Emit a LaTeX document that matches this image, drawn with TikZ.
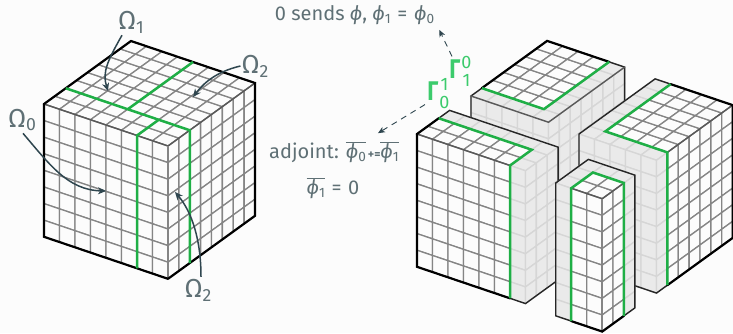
\documentclass[tikz,border=0pt]{standalone}
\usepackage{fontspec}
\setmainfont{Fira Sans}
\usetikzlibrary{arrows.meta}
\definecolor{paper}{HTML}{FCFCFC}
\definecolor{cellwhite}{HTML}{FCFCFC}
\definecolor{cellgray}{HTML}{858585}
\definecolor{ghostfill}{HTML}{EAEAEA}
\definecolor{ghostgray}{HTML}{D6D6D6}
\definecolor{ownergreen}{HTML}{1FAF46}
\definecolor{gammagreen}{HTML}{3CCB6C}
\definecolor{labelink}{HTML}{5F7075}
\definecolor{arrowink}{HTML}{2F464F}
\tikzset{
  isoaxes/.style={x={(15.5pt,-5.25pt)},y={(10.875pt,7.875pt)},z={(0pt,-16.6pt)}},
  whitecell/.style={fill=cellwhite,draw=cellgray,line width=1.3pt},
  ghostcell/.style={fill=ghostfill,draw=ghostgray,line width=1.3pt},
  heavy/.style={draw=black,line width=2.2pt,line cap=round},
  medium/.style={draw=black!85,line width=1.4pt,line cap=round},
  seam/.style={draw=black!65,line width=1.4pt,line cap=round},
  corner/.style={draw=cellgray,line width=2.2pt},
  owner/.style={draw=ownergreen,line width=2.5pt,line join=miter},
  omega/.style={text=labelink,inner sep=0pt,font=\fontsize{26}{26}\selectfont},
  note/.style={text=labelink,inner sep=0pt,font=\fontsize{20}{22}\selectfont},
  gam/.style={text=gammagreen,inner sep=0pt,font=\fontsize{27}{27}\selectfont\bfseries},
  gamidx/.style={text=gammagreen,inner sep=0pt,font=\fontsize{18}{18}\selectfont},
  callout/.style={draw=arrowink,line width=1.5pt,-{Stealth[length=8pt,width=7pt,inset=2.5pt]}},
  dashcall/.style={draw=arrowink,line width=.9pt,dash pattern=on 6pt off 5pt,-{Stealth[length=7pt,width=6pt,inset=2pt]}}
}
% cell grids: top (w=0), front (v=0), right side (u=#1)
\newcommand\topgrid[5]{\foreach \i in {#1,...,#2}{\foreach \j in {#3,...,#4}{%
  \path[#5] (\i,\j,0)--(\i+1,\j,0)--(\i+1,\j+1,0)--(\i,\j+1,0)--cycle;}}}
\newcommand\frontgrid[3]{\foreach \i in {#1,...,#2}{\foreach \k in {0,...,7}{%
  \path[#3] (\i,0,\k)--(\i+1,0,\k)--(\i+1,0,\k+1)--(\i,0,\k+1)--cycle;}}}
\newcommand\sidegrid[4]{\foreach \j in {#2,...,#3}{\foreach \k in {0,...,7}{%
  \path[#4] (#1,\j,\k)--(#1,\j+1,\k)--(#1,\j+1,\k+1)--(#1,\j,\k+1)--cycle;}}}
\newcommand\subi[1]{\raisebox{-.28ex}{\scalebox{.68}{#1}}}
\newcommand\phii{\textit{ϕ}}
\newcommand\ovl[1]{\ensuremath{\overline{\mbox{#1}}}}
\newcommand\gammaglyph{\scalebox{.8}[1]{Γ}}
\begin{document}
\begin{tikzpicture}[x=1pt,y=1pt]
\useasboundingbox (0,0) rectangle (733,-333);
\fill[paper] (0,0) rectangle (733,-333);

% ---------- left cube
\begin{scope}[isoaxes,shift={(44pt,-104pt)}]
  \topgrid{0}{7}{0}{7}{whitecell}
  \frontgrid{0}{7}{whitecell}
  \sidegrid{8}{0}{7}{whitecell}
  \path[seam] (0,0,0)--(8,0,0)--(8,8,0);
  \path[corner] (8,0,0)--(8,0,8);
  \path[heavy] (8,0,8)--(0,0,8)--(0,0,0)--(0,8,0)--(8,8,0)--(8,8,8)--(8,0,8);
  \path[owner] (0,2,0)--(8,2,0)--(8,2,8);
  \path[owner] (4,8,0)--(4,2,0);
  \path[owner] (6,2,0)--(6,0,0)--(6,0,8);
\end{scope}

% ---------- block behind
\begin{scope}[isoaxes,shift={(471pt,-96pt)}]
  \topgrid{0}{4}{0}{6}{ghostcell}
  \frontgrid{0}{4}{ghostcell}
  \sidegrid{5}{0}{6}{ghostcell}
  \topgrid{0}{3}{1}{6}{whitecell}
  \path[medium] (0,0,8)--(0,0,0)--(0,1,0);
  \path[heavy] (0,1,0)--(0,7,0)--(4,7,0);
  \path[medium] (4,7,0)--(5,7,0)--(5,7,8);
  \path[seam] (0,0,0)--(5,0,0)--(5,7,0);
  \path[owner] (0,1,0)--(4,1,0)--(4,7,0);
\end{scope}

% ---------- block on the right
\begin{scope}[isoaxes,shift={(579pt,-134pt)}]
  \topgrid{0}{4}{0}{6}{ghostcell}
  \frontgrid{0}{4}{ghostcell}
  \sidegrid{5}{0}{6}{ghostcell}
  \topgrid{1}{4}{1}{6}{whitecell}
  \sidegrid{5}{1}{6}{whitecell}
  \path[seam] (5,1,0)--(5,7,0);
  \path[medium] (0,0,8)--(0,0,0)--(0,7,0)--(1,7,0);
  \path[medium] (0,0,8)--(5,0,8)--(5,1,8);
  \path[heavy] (1,7,0)--(5,7,0)--(5,7,8)--(5,1,8);
  \path[owner] (1,7,0)--(1,1,0)--(5,1,0)--(5,1,8);
\end{scope}

% ---------- block in front, left
\begin{scope}[isoaxes,shift={(417pt,-134pt)}]
  \topgrid{0}{6}{0}{2}{ghostcell}
  \frontgrid{0}{6}{ghostcell}
  \sidegrid{7}{0}{2}{ghostcell}
  \topgrid{0}{5}{0}{1}{whitecell}
  \frontgrid{0}{5}{whitecell}
  \path[seam] (0,0,0)--(6,0,0);
  \path[medium] (0,2,0)--(0,3,0)--(7,3,0)--(7,3,8)--(7,0,8)--(6,0,8);
  \path[heavy] (6,0,8)--(0,0,8)--(0,0,0)--(0,2,0);
  \path[owner] (0,2,0)--(6,2,0)--(6,0,0)--(6,0,8);
\end{scope}

% ---------- pillar
\begin{scope}[isoaxes,shift={(555.7pt,-183pt)}]
  \topgrid{0}{2}{0}{2}{ghostcell}
  \frontgrid{0}{2}{ghostcell}
  \sidegrid{3}{0}{2}{ghostcell}
  \topgrid{1}{2}{0}{1}{whitecell}
  \frontgrid{1}{2}{whitecell}
  \sidegrid{3}{0}{1}{whitecell}
  \path[seam] (1,0,0)--(3,0,0)--(3,2,0);
  \path[corner] (3,0,0)--(3,0,8);
  \path[medium] (1,0,8)--(0,0,8)--(0,0,0)--(0,3,0)--(3,3,0)--(3,3,8)--(3,2,8);
  \path[heavy] (1,0,8)--(3,0,8)--(3,2,8);
  \path[owner] (1,0,8)--(1,0,0)--(1,2,0)--(3,2,0)--(3,2,8);
\end{scope}

% ---------- labels
\node[omega] (om1) at (131,-22) {Ω\subi{1}};
\node[omega] (om2a) at (255,-66) {Ω\subi{2}};
\node[omega] (om0) at (22,-120) {Ω\subi{0}};
\node[omega] (om2b) at (198,-290) {Ω\subi{2}};
\coordinate (t1) at (108,-91);
\coordinate (t2a) at (193,-97);
\coordinate (t0) at (106,-191);
\coordinate (t2b) at (175,-192);
\draw[callout] ([xshift=-9pt,yshift=-2pt]om1.south) .. controls (108,-60) and (102,-72) .. (t1);
\draw[callout] ([xshift=-1pt]om2a.west) .. controls (215,-72) and (203,-84) .. (t2a);
\draw[callout] ([xshift=1pt,yshift=-2pt]om0.south) .. controls (50,-165) and (68,-190) .. (t0);
\draw[callout] ([xshift=3pt,yshift=2pt]om2b.north) .. controls (201,-240) and (192,-212) .. (t2b);

\node[note] (sends) at (354.5,-15) {0 sends \phii, \phii\subi{1}\,\,=\,\,\phii\subi{0}};
\node[note] (adj) at (334,-152) {adjoint: \ovl{\phii\subi{0}}{\fontsize{12}{12}\selectfont\bfseries\,+=}\ovl{\phii\subi{1}}};
\node[note] (zero) at (333,-188) {\ovl{\phii\subi{1}}\,\,=\,\,0};

\node[gam] (g1) at (455,-69) {\gammaglyph};
\node[gamidx] (g1u) at (466.5,-62) {0};
\node[gamidx] (g1d) at (466.5,-80) {1};
\node[gam] (g0) at (433,-91) {\gammaglyph};
\node[gamidx] (g0u) at (444.5,-84) {1};
\node[gamidx] (g0d) at (444.5,-102) {0};
\draw[dashcall] ([xshift=-3pt,yshift=3pt]g1.north) -- ([xshift=5pt,yshift=-5pt]sends.south east);
\draw[dashcall] ([xshift=-8pt,yshift=-4pt]g0.south) -- ([xshift=-21pt,yshift=8pt]adj.north east);
\end{tikzpicture}
\end{document}
